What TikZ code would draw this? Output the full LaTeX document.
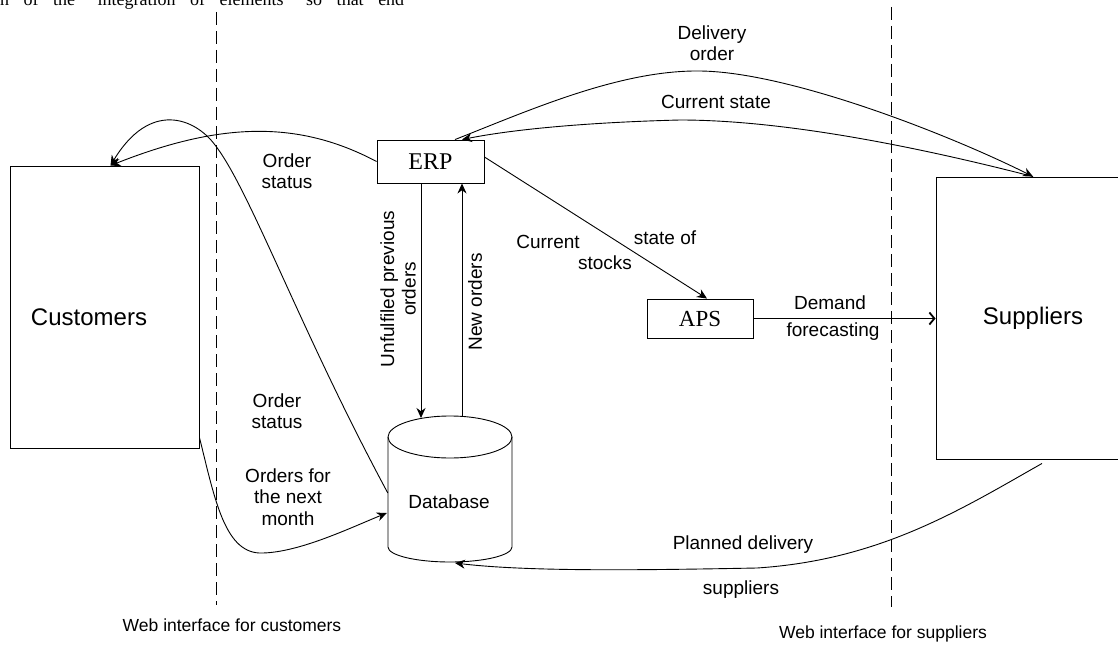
\documentclass[tikz,border=0pt]{standalone}
\usepackage{fontspec}
\setmainfont{Liberation Sans}
\newfontfamily\serifface{Liberation Serif}
\usetikzlibrary{arrows.meta,calc}

\tikzset{
  box/.style={draw, line width=0.9pt, inner sep=0pt},
  lbl/.style={font=\fontsize{19}{21.5}\selectfont, align=center, inner sep=0pt},
  title/.style={font=\fontsize{24}{26}\selectfont, inner sep=0pt},
  serifbox/.style={box, font=\serifface\fontsize{24}{26}\selectfont},
  foot/.style={font=\fontsize{17.5}{20}\selectfont, inner sep=0pt},
  conn/.style={line width=0.9pt},
  heavy/.style={conn, -{Stealth[length=10pt,width=9pt]}},
  barb/.style={conn, -{Straight Barb[length=5pt,width=12pt,line width=1.8pt]}},
  border/.style={line width=0.9pt, dash pattern=on 13pt off 6pt}
}

\begin{document}
\begin{tikzpicture}[x=1pt,y=-1pt]
  \fill[white] (0,0) rectangle (1118,647);
  \useasboundingbox (0,0) rectangle (1118,647);
  \clip (0,0) rectangle (1118,647);

  % running text of the page above the figure
  \node[anchor=base west, inner sep=0pt, font=\serifface\fontsize{18}{18}\selectfont] (runtext) at (0,6)
    {\makebox[404pt][s]{n of the “integration of elements” so that end}};

  % web interface borders
  \coordinate (lt) at (216,12);  \coordinate (lb) at (216,605);
  \coordinate (rt) at (891,7);   \coordinate (rb) at (891,607);
  \draw[border] (lt) -- (lb);
  \draw[border] (rt) -- (rb);
  \node[foot] (webc) at (232,625) {Web interface for customers};
  \node[foot] (webs) at (883,634) {Web interface for suppliers};

  % actors
  \node[box, minimum width=189pt, minimum height=282pt] (cust) at (104.5,307) {};
  \node[title] (custtxt) at (89,317) {Customers};
  \node[box, minimum width=189pt, minimum height=282pt] (sup) at (1030.5,318) {};
  \node[title] (suptxt) at (1033,318) {Suppliers};

  % systems
  \node[serifbox, minimum width=107pt, minimum height=43pt] (erp) at (430.5,161.5) {ERP};
  \node[serifbox, minimum width=106pt, minimum height=39pt, font=\serifface\fontsize{23}{25}\selectfont] (aps) at (700,318.5) {APS};

  % database cylinder
  \draw[line width=0.9pt] (450,437) ellipse [x radius=62, y radius=21];
  \draw[line width=0.9pt] (388,437) -- (388,547) arc[start angle=180, end angle=0, x radius=62, y radius=15] -- (512,437);
  \node[inner sep=0pt, minimum width=124pt, minimum height=146pt] (db) at (450,489) {};
  \node[lbl] (dbtxt) at (449,502) {Database};

  % ERP <-> database
  \draw[heavy] ($(erp.south)+(-9.5,0)$) -- (421,418) coordinate (dbin);
  \draw[heavy] (462,416) coordinate (dbout) -- ($(erp.south)+(31.5,0)$);
  \node[lbl, rotate=90] (unf) at (398,289) {Unfulfiled previous\\orders};
  \node[lbl, rotate=90] (neworders) at (475,302) {New orders};

  % ERP -> APS
  \draw[heavy] ($(erp.east)+(0,-4.5)$) -- ($(aps.north)+(7,0)$);
  \node[lbl] (cs1) at (548,242) {Current};
  \node[lbl] (cs2) at (605,263) {stocks};
  \node[lbl] (cs3) at (665,238) {state of};

  % APS -> suppliers
  \draw[barb] (aps.east) -- (sup.west |- aps.east);
  \node[lbl] (df1) at (830,303) {Demand};
  \node[lbl] (df2) at (833,332) {forecasting};

  % ERP -> customers
  \coordinate (custtop) at ($(cust.north)+(6,0)$);
  \draw[heavy] (erp.west) .. controls (300,121) and (223,121) .. (custtop);
  \node[lbl] (os1) at (287,171) {Order\\status};

  % database -> customers
  \coordinate (dbleft) at ($(db.west)+(0,4)$);
  \draw[heavy] (dbleft) .. controls (300,330) and (250,190) .. (215,145)
                 .. controls (195,118) and (150,100) .. (custtop);
  \node[lbl] (os2) at (277,411) {Order\\status};

  % customers -> database
  \coordinate (custout) at ($(cust.south east)+(0,-11)$);
  \draw[heavy] (custout) .. controls (215,500) and (225,555) .. (263,553)
                 .. controls (300,552) and (350,528) .. ($(db.west)+(-1,24)$);
  \node[lbl] (onm) at (288,497) {Orders for\\the next\\month};

  % ERP <-> suppliers
  \coordinate (suptop) at ($(sup.north)+(2.5,0)$);
  \draw[heavy] ($(erp.north)+(24.5,0)$) .. controls (530,110) and (620,70) .. (700,71)
                 .. controls (790,72) and (950,135) .. (suptop);
  \node[lbl] (do) at (712,43) {Delivery\\order};
  \draw[heavy] (suptop) .. controls (930,150) and (790,120) .. (680,120)
                 .. controls (600,122) and (520,128) .. ($(erp.north)+(31.5,0)$);
  \node[lbl] (cst) at (716,102) {Current state};

  % suppliers -> database
  \coordinate (supbot) at ($(sup.south)+(11.5,4)$);
  \draw[heavy] (supbot) .. controls (960,510) and (880,560) .. (757,568)
                 .. controls (650,570) and (530,572) .. (455,563);
  \node[lbl] (pd1) at (743,545) {Planned delivery};
  \node[lbl] (pd2) at (741,590) {suppliers};
\end{tikzpicture}
\end{document}
